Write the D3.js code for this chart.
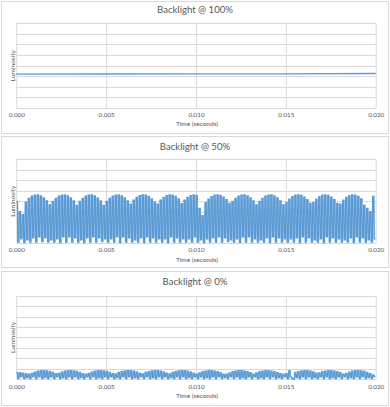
<!DOCTYPE html>
<html><head><meta charset="utf-8">
<script src="https://cdn.jsdelivr.net/npm/d3@7"></script>
<style>html,body{margin:0;padding:0;background:#fff;}svg{display:block;}</style>
</head><body>
<div id="chart"></div>
<script>
// ---------- data ----------
const chartTitles = ["Backlight @ 100%", "Backlight @ 50%", "Backlight @ 0%"];
const xTickValues = [0, 0.005, 0.010, 0.015, 0.020];
const xAxisTitle = "Time (seconds)";
const yAxisTitle = "Luminosity";
const yGridValues = [0, 1, 2, 3, 4, 5, 6, 7, 8];

// 100 %: steady level
const time100 = [0, 0.005, 0.010, 0.015, 0.020];
const lum100 = [3.20, 3.21, 3.22, 3.23, 3.26];

// 50 %: per PWM cycle, "on" and "off" luminosity (120 cycles over 0.02 s)
const peaks50 = [
 3.95,3.0,2.7,3.9,4.27,4.48,4.58,4.59,4.5,4.31,
 4.02,3.63,3.97,4.27,4.48,4.58,4.59,4.5,4.31,4.02,
 3.6,3.97,4.27,4.48,4.58,4.59,4.5,4.31,4.02,3.6,
 3.97,4.27,4.48,4.58,4.59,4.5,4.31,4.02,3.7,4.08,
 4.35,4.52,4.6,4.57,4.45,4.22,3.9,3.7,4.08,4.35,
 4.52,4.6,4.57,4.45,4.22,3.75,4.08,4.35,4.52,4.6,
 4.55,3.3,2.6,3.85,4.18,4.42,4.56,4.6,4.54,4.38,
 4.13,3.78,3.97,4.27,4.48,4.58,4.59,4.5,4.31,4.02,
 3.63,3.97,4.27,4.48,4.58,4.59,4.5,4.31,4.02,3.63,
 3.85,4.18,4.42,4.56,4.6,4.54,4.38,4.13,3.78,3.85,
 4.18,4.42,4.56,4.6,4.54,4.38,4.13,3.78,3.72,4.08,
 4.35,4.52,4.6,4.57,4.45,4.22,3.6,3.3,3.0,4.45
];
const troughs50 = [
 0.1,0.4,0.05,0.3,0.1,0.5,0.1,0.6,0.15,0.5,
 0.1,0.3,0.1,0.4,0.05,0.6,0.1,0.6,0.1,0.5,
 0.1,0.3,0.05,0.5,0.1,0.6,0.1,0.5,0.15,0.4,
 0.1,0.4,0.1,0.6,0.05,0.6,0.1,0.5,0.1,0.3,
 0.1,0.5,0.05,0.6,0.1,0.5,0.1,0.4,0.1,0.4,
 0.05,0.6,0.1,0.5,0.1,0.4,0.1,0.4,0.1,0.6,
 0.1,0.3,0.05,0.4,0.1,0.5,0.1,0.6,0.1,0.5,
 0.15,0.3,0.1,0.4,0.05,0.6,0.1,0.6,0.1,0.4,
 0.1,0.3,0.1,0.5,0.05,0.6,0.1,0.5,0.1,0.4,
 0.1,0.4,0.1,0.5,0.05,0.6,0.1,0.5,0.1,0.3,
 0.1,0.4,0.05,0.6,0.1,0.5,0.1,0.4,0.1,0.3,
 0.1,0.5,0.05,0.6,0.1,0.5,0.1,0.3,0.1,0.4
];

// 0 %: per PWM cycle, "on" and "off" luminosity (120 cycles over 0.02 s)
const peaks0 = [
 0.62,0.6,0.55,0.5,0.46,0.54,0.65,0.74,0.79,0.8,
 0.78,0.72,0.63,0.51,0.54,0.65,0.74,0.79,0.8,0.78,
 0.72,0.63,0.51,0.46,0.54,0.65,0.74,0.79,0.8,0.78,
 0.72,0.63,0.51,0.49,0.62,0.71,0.77,0.8,0.79,0.75,
 0.67,0.55,0.49,0.62,0.71,0.77,0.8,0.79,0.75,0.67,
 0.55,0.49,0.62,0.71,0.77,0.8,0.79,0.75,0.67,0.55,
 0.47,0.58,0.69,0.76,0.8,0.8,0.76,0.7,0.6,0.46,
 0.45,0.58,0.69,0.76,0.8,0.8,0.76,0.7,0.6,0.47,
 0.58,0.69,0.76,0.8,0.8,0.76,0.7,0.6,0.5,0.47,
 0.5,0.8,0.05,0.62,0.71,0.77,0.8,0.79,0.75,0.67,
 0.55,0.58,0.69,0.76,0.8,0.8,0.76,0.7,0.6,0.47,
 0.54,0.65,0.74,0.79,0.8,0.78,0.72,0.63,0.5,0.4
];
const troughs0 = [
 0.05,0.2,0.05,0.15,0.05,0.2,0.05,0.2,0.05,0.15,
 0.05,0.2,0.05,0.2,0.05,0.15,0.05,0.2,0.05,0.2,
 0.05,0.15,0.05,0.2,0.05,0.2,0.05,0.15,0.05,0.2,
 0.05,0.2,0.05,0.15,0.05,0.2,0.05,0.2,0.05,0.15,
 0.05,0.2,0.05,0.2,0.05,0.15,0.05,0.2,0.05,0.2,
 0.05,0.15,0.05,0.2,0.05,0.2,0.05,0.15,0.05,0.2,
 0.05,0.2,0.05,0.15,0.05,0.2,0.05,0.2,0.05,0.15,
 0.05,0.2,0.05,0.2,0.05,0.15,0.05,0.2,0.05,0.2,
 0.05,0.15,0.05,0.2,0.05,0.2,0.05,0.15,0.05,0.2,
 0.05,0.2,0.0,0.15,0.05,0.2,0.05,0.2,0.05,0.15,
 0.05,0.2,0.05,0.2,0.05,0.15,0.05,0.2,0.05,0.2,
 0.05,0.15,0.05,0.2,0.05,0.2,0.05,0.15,0.05,0.2
];

// ---------- build series (square-wave PWM: on-plateau then off-plateau) ----------
function pwmSeries(peaks, troughs) {
  const n = peaks.length;
  const dt = 0.02 / n;
  const pts = [];
  for (let i = 0; i < n; i++) {
    const t = i * dt;
    pts.push([t, peaks[i]]);
    pts.push([t + dt * 0.4, peaks[i]]);
    pts.push([t + dt * 0.5, troughs[i]]);
    pts.push([t + dt * 0.9, troughs[i]]);
  }
  return pts;
}
const series = [
  time100.map((t, i) => [t, lum100[i]]),
  pwmSeries(peaks50, troughs50),
  pwmSeries(peaks0, troughs0)
];

// ---------- layout ----------
const W = 390, H = 407;
const panels = [
  {boxY: 1,   boxH: 132, top: 23.3,  bottom: 108, titleY: 10,    tickY: 115,   labelY: 124},
  {boxY: 136, boxH: 131, top: 159.3, bottom: 243, titleY: 146.7, tickY: 250,   labelY: 259.5},
  {boxY: 271, boxH: 134, top: 295.7, bottom: 379, titleY: 282,   tickY: 386.5, labelY: 395.5}
];
const plotLeft = 16.3, plotRight = 375.7;
const gridColor = "#d9d9d9", textColor = "#595959", lineColor = "#5b9bd5";
const fontFam = "Lato, 'Open Sans', sans-serif";

const svg = d3.select("#chart").append("svg").attr("width", W).attr("height", H);
svg.append("rect").attr("width", W).attr("height", H).attr("fill", "#fff");

const x = d3.scaleLinear().domain([0, 0.02]).range([plotLeft, plotRight]);

panels.forEach((p, k) => {
  const g = svg.append("g");
  g.append("rect").attr("x", 1.5).attr("y", p.boxY + 0.5).attr("width", 387).attr("height", p.boxH)
    .attr("fill", "#fff").attr("stroke", gridColor).attr("stroke-width", 1);

  const y = d3.scaleLinear().domain([0, 8]).range([p.bottom, p.top]);

  // horizontal gridlines
  g.append("g").selectAll("line").data(yGridValues).join("line")
    .attr("x1", plotLeft).attr("x2", plotRight)
    .attr("y1", d => Math.round(y(d)) + 0.5).attr("y2", d => Math.round(y(d)) + 0.5)
    .attr("stroke", gridColor).attr("stroke-width", 1);

  // vertical gridlines via axis
  const grid = g.append("g").attr("transform", `translate(0,${p.bottom})`)
    .call(d3.axisBottom(x).tickValues(xTickValues).tickSize(-(p.bottom - p.top)).tickFormat(""));
  grid.select(".domain").remove();
  grid.selectAll(".tick line").attr("stroke", gridColor);

  // tick labels via axis
  const ax = g.append("g").attr("transform", `translate(0,${p.tickY})`)
    .call(d3.axisBottom(x).tickValues(xTickValues).tickSize(0).tickPadding(0).tickFormat(d3.format(".3f")));
  ax.select(".domain").remove();
  ax.selectAll("text").attr("dy", "0.35em").attr("fill", textColor)
    .style("font-family", fontFam).style("font-size", "6.3px");

  // title
  g.append("text").attr("x", 195).attr("y", p.titleY).attr("dy", "0.35em")
    .attr("text-anchor", "middle").attr("fill", textColor)
    .style("font-family", fontFam).style("font-size", "9.6px").text(chartTitles[k]);

  // x axis title
  g.append("text").attr("x", 197).attr("y", p.labelY).attr("dy", "0.35em")
    .attr("text-anchor", "middle").attr("fill", textColor)
    .style("font-family", fontFam).style("font-size", "6.5px").text(xAxisTitle);

  // y axis title
  const cy = (p.top + p.bottom) / 2;
  g.append("text").attr("transform", `translate(12.5,${cy}) rotate(-90)`).attr("dy", "0.35em")
    .attr("text-anchor", "middle").attr("fill", textColor)
    .style("font-family", fontFam).style("font-size", "6.5px").text(yAxisTitle);

  // series line
  const line = d3.line().x(d => x(d[0])).y(d => y(d[1]));
  g.append("path").datum(series[k]).attr("d", line)
    .attr("fill", "none").attr("stroke", lineColor).attr("stroke-width", k === 0 ? 1.3 : 1.4)
    .attr("stroke-linejoin", "miter");
});
</script>
</body></html>
